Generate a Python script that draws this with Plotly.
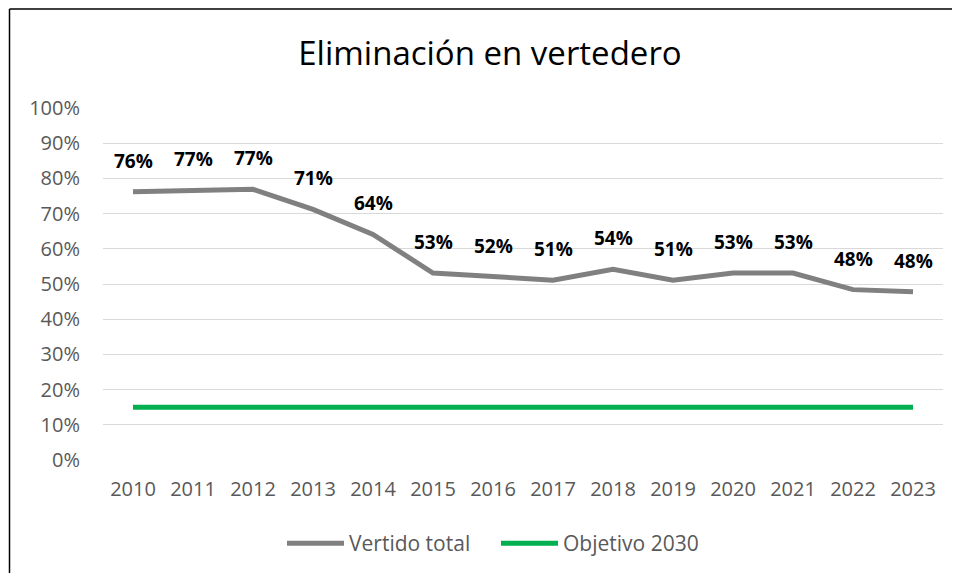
import plotly.graph_objects as go

years = ["2010", "2011", "2012", "2013", "2014", "2015", "2016", "2017",
         "2018", "2019", "2020", "2021", "2022", "2023"]
vertido_total = [0.762, 0.766, 0.769, 0.712, 0.641, 0.531, 0.521, 0.511,
                 0.542, 0.511, 0.531, 0.531, 0.484, 0.478]
objetivo_2030 = [0.15] * len(years)
y_ticks = [i / 10 for i in range(11)]
y_tick_labels = [f"{i * 10}%" for i in range(11)]

FONT = "Open Sans"
GRAY = "#808080"
GREEN = "#00B050"

# page body has an 8px margin; work in figure coordinates
OFF = 8
W, H = 960 - 2 * OFF, 581 - 2 * OFF
L = 103 - OFF
R = W - (943 - OFF)
T = 108 - OFF
B = H - (462 - OFF)
pw, ph = W - L - R, H - T - B

fig = go.Figure()
fig.add_trace(go.Scatter(x=years, y=vertido_total, mode="lines", name="Vertido total",
                         line=dict(color=GRAY, width=5)))
fig.add_trace(go.Scatter(x=years, y=objetivo_2030, mode="lines", name="Objetivo 2030",
                         line=dict(color=GREEN, width=5)))

for i, v in enumerate(vertido_total):
    fig.add_annotation(x=i, y=v, xref="x", yref="y", text=f"{round(v * 100)}%",
                       showarrow=False, yanchor="middle", yshift=31,
                       font=dict(family=FONT, size=19, color="#000000", weight="bold"))

# chart border (left and top edges fall inside the visible frame)
bx0 = (9.5 - OFF - L) / pw
bx1 = (W + 20 - L) / pw
by0 = (H - B - 600) / ph
by1 = (H - B - (8.5 - OFF)) / ph
fig.add_shape(type="line", xref="paper", yref="paper", x0=bx0, x1=bx0, y0=by0, y1=by1,
              line=dict(color="#000000", width=1.5), layer="above")
fig.add_shape(type="line", xref="paper", yref="paper", x0=bx0, x1=bx1, y0=by1, y1=by1,
              line=dict(color="#000000", width=1.5), layer="above")

fig.update_layout(
    width=W, height=H,
    margin=dict(l=L, r=R, t=T, b=B),
    paper_bgcolor="white", plot_bgcolor="white",
    title=dict(text="Eliminación en vertedero", x=(490 - OFF) / W, xanchor="center",
               y=1 - (53 - OFF) / H, yanchor="middle",
               font=dict(family=FONT, size=33, color="#000000")),
    showlegend=True,
    legend=dict(orientation="h", x=(496 - OFF - L) / pw, xanchor="center",
                y=(H - B - (546 - OFF)) / ph, yanchor="middle",
                font=dict(family=FONT, size=21, color="#595959"),
                itemwidth=57, entrywidth=142, entrywidthmode="pixels"),
    xaxis=dict(type="category", range=[-0.5, 13.5], showgrid=False, showline=False,
               ticks="", ticklabelstandoff=15,
               tickfont=dict(family=FONT, size=20, color="#595959")),
    yaxis=dict(range=[0, 1], tickvals=y_ticks, ticktext=y_tick_labels,
               showgrid=True, gridcolor="#D9D9D9", gridwidth=1.3, zeroline=False,
               showline=False, ticks="", ticklabelstandoff=22,
               tickfont=dict(family=FONT, size=20, color="#595959")),
)

fig.write_html("out.html")
